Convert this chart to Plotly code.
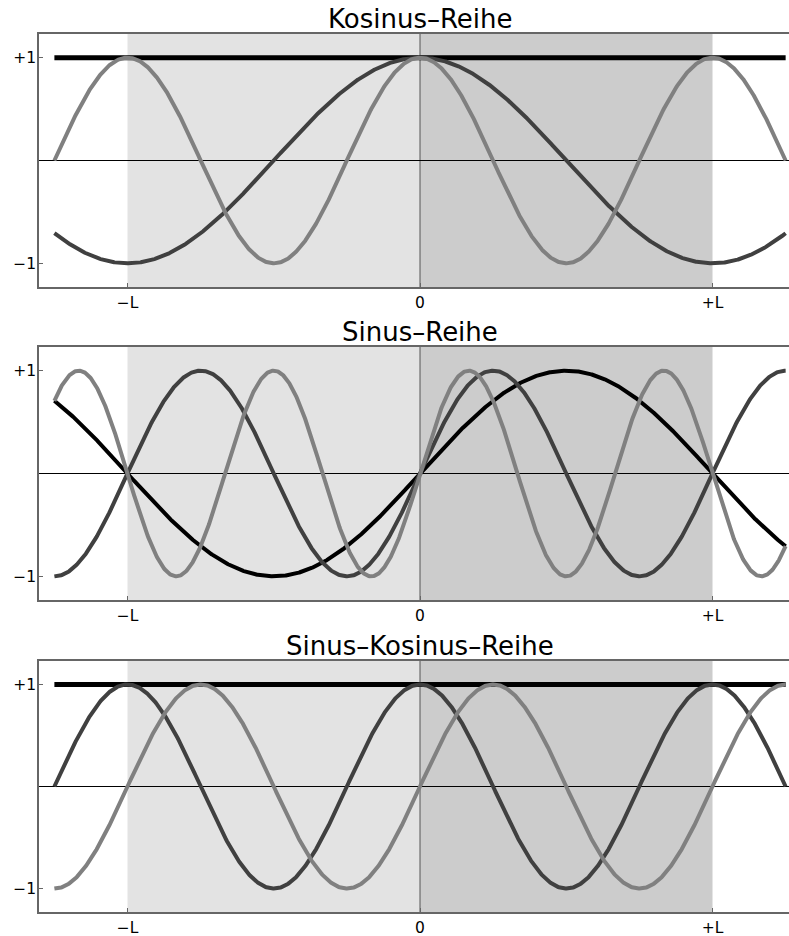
import numpy as np
import plotly.graph_objects as go

# Panel titles and the basis functions drawn in each panel
titles = ["Kosinus–Reihe", "Sinus–Reihe", "Sinus–Kosinus–Reihe"]

# (kind, harmonic number) per curve; argument is n*pi*x/L
cos_kinds = ["cos", "cos", "cos"]
cos_orders = [0, 1, 2]
sin_kinds = ["sin", "sin", "sin"]
sin_orders = [1, 2, 3]
sc_kinds = ["cos", "cos", "sin"]
sc_orders = [0, 2, 2]

curve_colors = ["#000000", "#404040", "#808080"]

x_ticks = [-1, 0, 1]
x_tick_text = ["−L", "0", "+L"]
y_ticks = [-1, 1]
y_tick_text = ["−1", "+1"]

x_start, x_end = -1.25, 1.25

W, H = 789, 936
# vertical pixel extents of each panel frame (top, bottom)
frames = [(34, 287), (347, 600), (661, 912)]

fig = go.Figure()
xs = np.linspace(x_start, x_end, 1201)

panels = [(cos_kinds, cos_orders), (sin_kinds, sin_orders), (sc_kinds, sc_orders)]

for i, ((kinds, orders), (top, bot)) in enumerate(zip(panels, frames)):
    ax = "" if i == 0 else str(i + 1)
    xref, yref = "x" + ax, "y" + ax
    dom = [1 - bot / H, 1 - top / H]

    # shaded half-periods
    for x0, x1, col in [(-1, 0, "#e3e3e3"), (0, 1, "#cccccc")]:
        fig.add_shape(type="rect", xref=xref, yref=yref + " domain",
                      x0=x0, x1=x1, y0=0, y1=1, fillcolor=col,
                      line_width=0, layer="below")
    # axes through the origin
    fig.add_shape(type="line", xref=xref, yref=yref + " domain",
                  x0=0, x1=0, y0=0, y1=1, line=dict(color="#555555", width=1),
                  layer="below")
    fig.add_shape(type="line", xref=xref + " domain", yref=yref,
                  x0=0, x1=1, y0=0, y1=0, line=dict(color="#000000", width=1),
                  layer="below")

    for kind, n, col in zip(kinds, orders, curve_colors):
        f = np.cos if kind == "cos" else np.sin
        ys = f(n * np.pi * xs)
        fig.add_trace(go.Scatter(x=xs, y=ys, mode="lines", xaxis=xref, yaxis=yref,
                                 line=dict(color=col, width=5 if n == 0 else 4),
                                 showlegend=False, hoverinfo="skip"))

    axis_common = dict(showgrid=False, zeroline=False, showline=True,
                       linecolor="#666666", linewidth=1.5, ticks="inside",
                       ticklen=4, tickcolor="#666666",
                       tickfont=dict(family="DejaVu Sans", size=15.5, color="#000000"))
    fig.update_layout(**{
        "xaxis" + ax: dict(domain=[0, 1], range=[-1.3026, 1.2615],
                           tickvals=x_ticks, ticktext=x_tick_text,
                           mirror=True, anchor=yref, ticklabelstandoff=1,
                           **axis_common),
        "yaxis" + ax: dict(domain=dom, range=[-1.23, 1.23],
                           tickvals=y_ticks, ticktext=y_tick_text,
                           anchor=xref, ticklabelstandoff=-2, **axis_common),
    })

    fig.add_annotation(text=titles[i], xref=xref, x=0, yref="paper",
                       y=1 - top / H, yanchor="bottom", yshift=-2, showarrow=False,
                       font=dict(family="DejaVu Sans", size=26, color="#000000"))

fig.update_layout(width=W, height=H, margin=dict(l=39, r=0, t=0, b=0),
                  plot_bgcolor="white", paper_bgcolor="white", showlegend=False)

fig.write_html("out.html")
